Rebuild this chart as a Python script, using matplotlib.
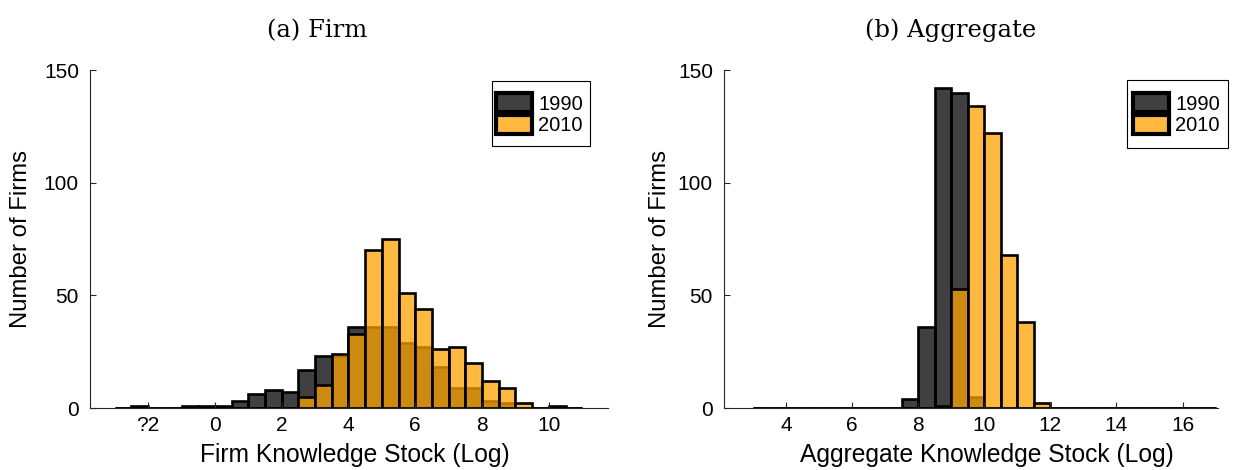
import matplotlib
matplotlib.use("Agg")
import matplotlib.pyplot as plt
from matplotlib.patches import Patch, Rectangle
import numpy as np

# Histogram counts per bin (bin width 0.5)
bin_width = 0.5

firm_first_edge = -3.0
firm_1990 = [0, 1, 0, 0, 1, 1, 1, 3, 6, 8, 7, 17, 23, 23,
             36, 36, 36, 29, 27, 18, 9, 9, 3, 2, 0, 0, 1, 0]
firm_2010 = [0, 0, 0, 0, 0, 0, 0, 0, 0, 0, 0, 5, 10, 24,
             33, 70, 75, 51, 44, 26, 27, 20, 12, 9, 2, 0, 0, 0]

agg_first_edge = 3.0
agg_1990 = [0, 0, 0, 0, 0, 0, 0, 0, 0, 4, 36, 142, 140, 5,
            0, 0, 0, 0, 0, 0, 0, 0, 0, 0, 0, 0, 0, 0]
agg_2010 = [0, 0, 0, 0, 0, 0, 0, 0, 0, 0, 0, 1, 53, 134,
            122, 68, 38, 2, 0, 0, 0, 0, 0, 0, 0, 0, 0, 0]

years = ["1990", "2010"]

firm_ticks = [-2, 0, 2, 4, 6, 8, 10]
firm_tick_labels = ["?2", "0", "2", "4", "6", "8", "10"]
agg_ticks = [4, 6, 8, 10, 12, 14, 16]
agg_tick_labels = ["4", "6", "8", "10", "12", "14", "16"]
y_ticks = [0, 50, 100, 150]

titles = ["(a) Firm", "(b) Aggregate"]
x_labels = ["Firm Knowledge Stock (Log)", "Aggregate Knowledge Stock (Log)"]
y_label = "Number of Firms"

DARK = (0.0, 0.0, 0.0, 0.75)
ORANGE = (1.0, 0.635, 0.0, 0.75)
AXIS_COLOR = "#262626"

plt.rcParams["font.family"] = ["Liberation Sans", "DejaVu Sans"]

W, H = 1246, 470
fig = plt.figure(figsize=(W / 100, H / 100), dpi=100)


def px_axes(x0, x1, y0, y1):
    return fig.add_axes([x0 / W, 1 - y1 / H, (x1 - x0) / W, (y1 - y0) / H])


ax_firm = px_axes(90, 608, 70, 408)
ax_agg = px_axes(724, 1218, 70, 408)


def draw_hist(ax, first_edge, c1990, c2010):
    lefts = first_edge + bin_width * np.arange(len(c1990))
    ax.bar(lefts, c1990, width=bin_width, align="edge", facecolor=DARK,
           edgecolor="black", linewidth=1.9)
    ax.bar(lefts, c2010, width=bin_width, align="edge", facecolor=ORANGE,
           edgecolor="black", linewidth=1.9)


draw_hist(ax_firm, firm_first_edge, firm_1990, firm_2010)
draw_hist(ax_agg, agg_first_edge, agg_1990, agg_2010)

ax_firm.set_xlim(-3.74, 11.77)
ax_agg.set_xlim(2.13, 17.07)

for ax, ticks, labels, xl in [
    (ax_firm, firm_ticks, firm_tick_labels, x_labels[0]),
    (ax_agg, agg_ticks, agg_tick_labels, x_labels[1]),
]:
    ax.set_ylim(0, 150)
    ax.set_yticks(y_ticks)
    ax.set_xticks(ticks)
    ax.set_xticklabels(labels)
    for side in ("top", "right"):
        ax.spines[side].set_visible(False)
    for side in ("left", "bottom"):
        ax.spines[side].set_color(AXIS_COLOR)
        ax.spines[side].set_linewidth(0.8)
    ax.tick_params(axis="both", direction="in", length=4, width=0.8,
                   colors=AXIS_COLOR, labelsize=15, labelcolor="black")
    ax.tick_params(axis="y", pad=8)
    ax.tick_params(axis="x", pad=6)
    ax.set_xlabel(xl, fontsize=17.7, va="baseline")
    ax.set_ylabel(y_label, fontsize=17.2, va="center")

ax_firm.xaxis.set_label_coords(0.512, -0.16)
ax_agg.xaxis.set_label_coords(0.532, -0.16)
ax_firm.yaxis.set_label_coords(-0.133, 0.5)
ax_agg.yaxis.set_label_coords(-0.130, 0.5)

fig.text(317 / W, 1 - 37 / H, titles[0], ha="center", va="baseline",
         family="DejaVu Serif", fontsize=17.5)
fig.text(951 / W, 1 - 37 / H, titles[1], ha="center", va="baseline",
         family="DejaVu Serif", fontsize=17.5)

handles = [Patch(facecolor=DARK, edgecolor="black", linewidth=3),
           Patch(facecolor=ORANGE, edgecolor="black", linewidth=3)]

# Legend boxes: (frame x0, y0, x1, y1) and content anchor, in pixels
legend_specs = [
    (ax_firm, (491.5, 81.5, 590, 146.5), (496, 93)),
    (ax_agg, (1127, 80, 1228, 147.5), (1133, 93)),
]
for ax, (fx0, fy0, fx1, fy1), (lx, ly) in legend_specs:
    frame = Rectangle((fx0 / W, 1 - fy1 / H), (fx1 - fx0) / W,
                      (fy1 - fy0) / H, transform=fig.transFigure,
                      facecolor="white", edgecolor="black", linewidth=0.8,
                      clip_on=False, zorder=4.5)
    ax.add_artist(frame)
    ax.legend(handles, years, loc="upper left",
              bbox_to_anchor=(lx / W, 1 - ly / H),
              bbox_transform=fig.transFigure, borderaxespad=0,
              fontsize=14.5, frameon=False, borderpad=0,
              handlelength=1.8, handleheight=1.1, handletextpad=0.3,
              labelspacing=0.05)

fig.savefig("out.png", dpi=100)
